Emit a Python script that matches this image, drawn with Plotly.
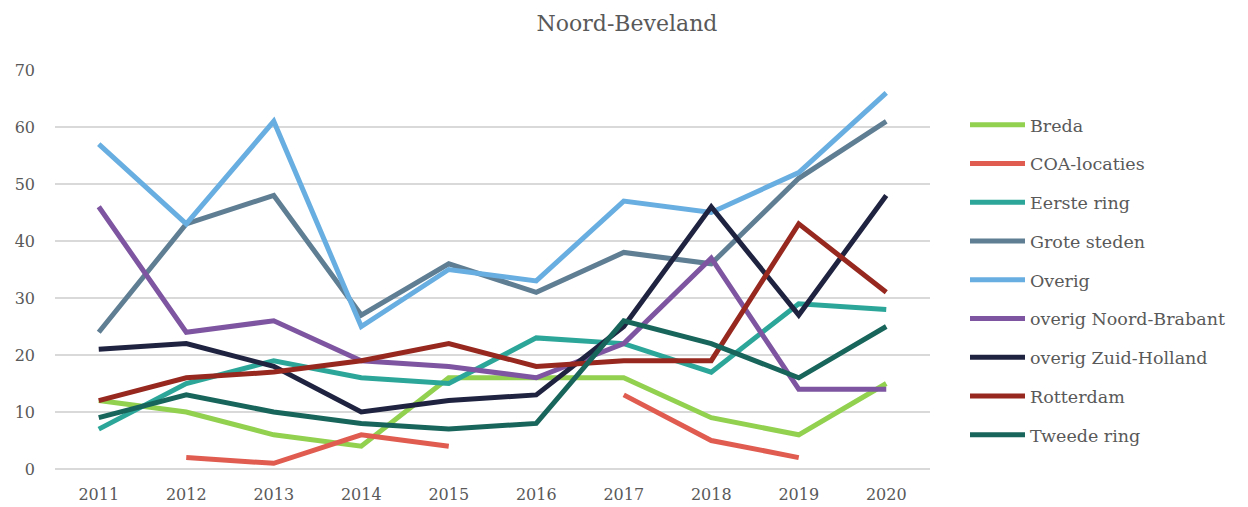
import plotly.graph_objects as go

years = ['2011', '2012', '2013', '2014', '2015', '2016', '2017', '2018', '2019', '2020']

breda = [12, 10, 6, 4, 16, 16, 16, 9, 6, 15]
coa_locaties = [None, 2, 1, 6, 4, None, 13, 5, 2, None]
eerste_ring = [7, 15, 19, 16, 15, 23, 22, 17, 29, 28]
grote_steden = [24, 43, 48, 27, 36, 31, 38, 36, 51, 61]
overig = [57, 43, 61, 25, 35, 33, 47, 45, 52, 66]
overig_nb = [46, 24, 26, 19, 18, 16, 22, 37, 14, 14]
overig_zh = [21, 22, 18, 10, 12, 13, 25, 46, 27, 48]
rotterdam = [12, 16, 17, 19, 22, 18, 19, 19, 43, 31]
tweede_ring = [9, 13, 10, 8, 7, 8, 26, 22, 16, 25]

series = [
    ('Breda', breda, '#92D050'),
    ('COA-locaties', coa_locaties, '#E05C50'),
    ('Eerste ring', eerste_ring, '#2BA699'),
    ('Grote steden', grote_steden, '#5F7E93'),
    ('Overig', overig, '#68AEE0'),
    ('overig Noord-Brabant', overig_nb, '#7E55A0'),
    ('overig Zuid-Holland', overig_zh, '#1F2340'),
    ('Rotterdam', rotterdam, '#96281F'),
    ('Tweede ring', tweede_ring, '#17655B'),
]

font = 'DejaVu Serif'

fig = go.Figure()
for name, vals, color in series:
    fig.add_trace(go.Scatter(x=years, y=vals, mode='lines', name=name,
                             legendgroup=name,
                             line=dict(color=color, width=5)))

# page has an 8px body margin, so margins are offset by that
fig.update_layout(
    title=dict(text='Noord-Beveland', x=0.496, xanchor='center',
               y=0.97, yanchor='middle',
               font=dict(family=font, size=22, color='#595959')),
    width=1248, height=507,
    margin=dict(l=47, r=326, t=62, b=46),
    plot_bgcolor='white', paper_bgcolor='white',
    font=dict(family=font, size=16, color='#595959'),
    legend=dict(x=1.04, xanchor='left', y=0.474, yanchor='middle',
                font=dict(family=font, size=17.5, color='#595959'),
                tracegroupgap=13, itemwidth=55),
    showlegend=True,
)
fig.update_xaxes(type='category', range=[-0.5, 9.5], showgrid=False,
                 showline=False, ticks='', tickfont=dict(size=16),
                 ticklabelstandoff=14, automargin=False)
fig.update_yaxes(range=[0, 70], dtick=10, showgrid=True, gridcolor='#D9D9D9',
                 gridwidth=1.5, zeroline=True, zerolinecolor='#D9D9D9',
                 zerolinewidth=1.5, showline=False, ticks='',
                 tickfont=dict(size=16), ticklabelstandoff=19,
                 automargin=False)

fig.write_html('out.html')
